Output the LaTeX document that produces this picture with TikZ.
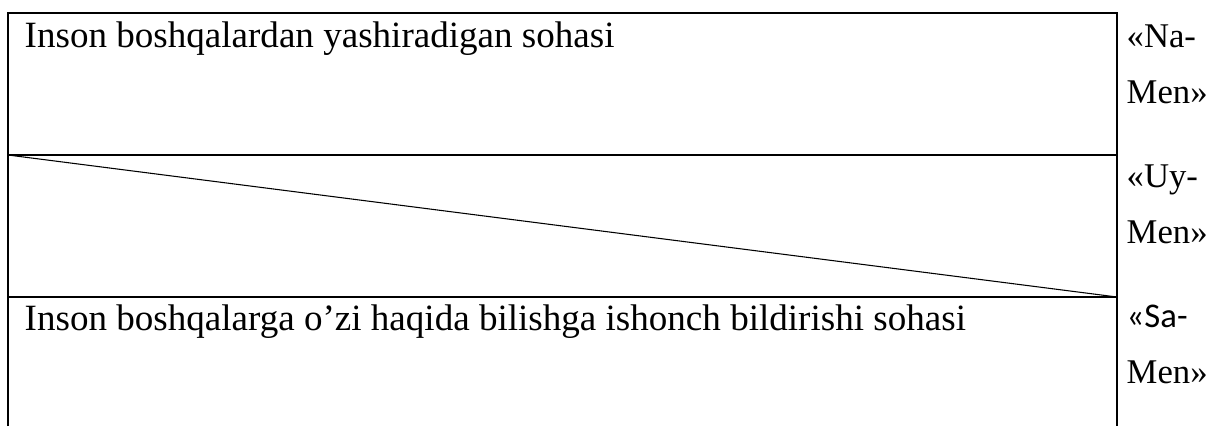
\documentclass[tikz,border=0pt]{standalone}
\usepackage{fontspec}
\setmainfont{Liberation Serif}
\newfontfamily\calibrifont{Carlito}
\usetikzlibrary{positioning}

\begin{document}
\begin{tikzpicture}[
    x = 0.75pt, y = -0.75pt, % pixel grid, origin top left
    line width = 1.1pt, % table rules
    node distance = 42pt, % line spacing of the side labels
    font = \fontsize{27.8}{32}\selectfont
    ]

    \tikzset{cell text/.style={
    anchor = base west,
    inner sep = 0pt
    }}
    \tikzset{side text/.style={
    anchor = base west,
    inner sep = 0pt,
    font = \fontsize{26}{30}\selectfont
    }}
    \useasboundingbox (0,0) rectangle (1222,426);

    % corners of the table
    \coordinate (tl) at (8,13);
    \coordinate (tr) at (1117,13);
    \coordinate (ml) at (8,155);
    \coordinate (mr) at (1117,155);
    \coordinate (nl) at (8,297);
    \coordinate (nr) at (1117,297);
    \coordinate (bl) at (8,426);
    \coordinate (br) at (1117,426);

    \draw (bl) -- (tl) -- (tr) -- (br);
    \draw (ml) -- (mr);
    \draw (nl) -- (nr);
    \draw[line width = 0.8pt] (ml) -- (nr);

    \node[cell text] (hidden) at (24,47) {Inson boshqalardan yashiradigan sohasi};
    \node[cell text] (trust) at (24,330) {Inson boshqalarga o’zi haqida bilishga ishonch bildirishi sohasi};

    \node[side text] (na1) at (1126,47) {«Na-};
    \node[side text, below = of na1.base west, anchor = base west] (na2) {Men»};
    \node[side text] (uy1) at (1126,187) {«Uy-};
    \node[side text, below = of uy1.base west, anchor = base west] (uy2) {Men»};
    \node[side text] (sa1) at (1126,327) {\calibrifont«Sa-};
    \node[side text, below = of sa1.base west, anchor = base west] (sa2) {Men»};
\end{tikzpicture}
\end{document}
